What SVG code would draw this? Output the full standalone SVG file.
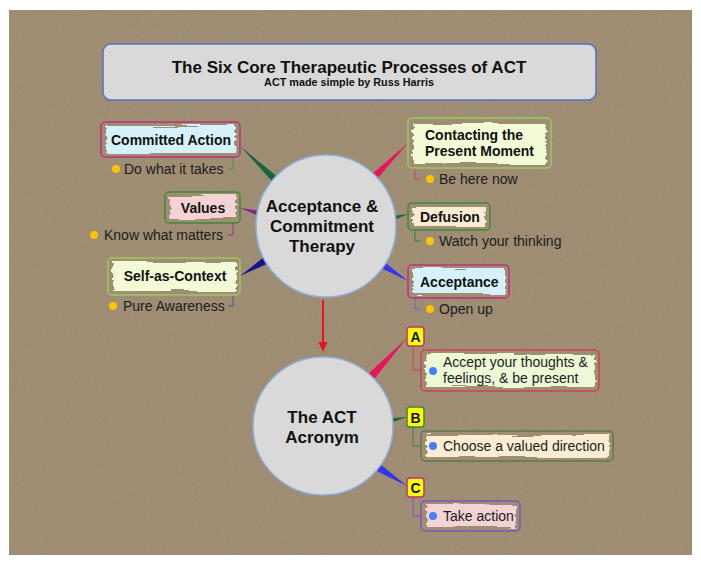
<svg xmlns="http://www.w3.org/2000/svg" width="701" height="563" viewBox="0 0 701 563">
<defs>
<style>
.t{font-family:"Liberation Sans",Arial,Helvetica,sans-serif;fill:#111}
.b{font-weight:bold}
.lbl{font-size:14px;font-weight:bold}
.sub{font-size:14px;fill:#1c1c1c}
.hub{font-size:17px;font-weight:bold;text-anchor:middle}
.box{fill:none;stroke-width:1.5}
.hl{filter:url(#rough)}
.dot{fill:#ffc400}
.bdot{fill:#4a7cff}
.br{fill:none;stroke-width:1}
.circ{fill:#d9d9d9;stroke:#8db0dc;stroke-width:1.5}
.badge{fill:#ffff00;stroke-width:1.5}
</style>
<filter id="rough" x="-10%" y="-30%" width="120%" height="160%">
<feTurbulence type="fractalNoise" baseFrequency="0.02 0.3" numOctaves="2" seed="4" result="n"/>
<feDisplacementMap in="SourceGraphic" in2="n" scale="7" xChannelSelector="R" yChannelSelector="G"/>
</filter>
<filter id="paper" x="0" y="0" width="100%" height="100%">
<feTurbulence type="fractalNoise" baseFrequency="0.9" numOctaves="2" seed="7" result="n"/>
<feColorMatrix in="n" type="matrix" values="0 0 0 0 0.25  0 0 0 0 0.2  0 0 0 0 0.12  0 0 0 -2.2 1.25"/>
</filter>
</defs>
<rect x="0" y="0" width="701" height="563" fill="#ffffff"/>
<rect x="9" y="10" width="683" height="545" fill="#a08f74"/>
<rect x="9" y="10" width="683" height="545" fill="#a08f74" filter="url(#paper)" opacity="0.35"/>

<g id="title">
<rect x="103" y="44" width="493" height="56" rx="8" fill="#d9d9d9" stroke="#4d74c2" stroke-width="1.5"/>
<text class="t b" x="349" y="73" font-size="17" text-anchor="middle">The Six Core Therapeutic Processes of ACT</text>
<text class="t b" x="349" y="86" font-size="10.8" text-anchor="middle">ACT made simple by Russ Harris</text>
</g>

<g id="connectors">
<polygon points="241,147 282.7,181.1 277.3,186.9" fill="#17653f"/>
<polygon points="240,208 262.8,211.1 261.2,216.9" fill="#8a1f94"/>
<polygon points="240,276 270.1,262.4 265.9,255.6" fill="#15158f"/>
<polygon points="408,143 372.8,183.8 367.2,178.2" fill="#e8145c"/>
<polygon points="408,214 390.7,221.4 389.3,216.6" fill="#17653a"/>
<polygon points="408,281 380.1,258.6 375.9,265.4" fill="#3434ee"/>
<polygon points="407,338 370.3,384.1 363.7,377.9" fill="#e8145c"/>
<polygon points="407,417 388.5,423.5 387.5,418.5" fill="#17653a"/>
<polygon points="407,486 378.2,462.6 373.8,469.4" fill="#3434ee"/>
<line x1="323" y1="300" x2="323" y2="343" stroke="#e8141e" stroke-width="2"/>
<polygon points="318.5,342 327.5,342 323,352" fill="#e8141e"/>
<path class="br" d="M233,157 V169 H228" stroke="#4f8a50"/>
<path class="br" d="M233,223 V235 H228" stroke="#9a3090"/>
<path class="br" d="M233,295 V306 H228" stroke="#5050a0"/>
<path class="br" d="M415,168 V179 H421" stroke="#d04060"/>
<path class="br" d="M415,230 V241 H421" stroke="#3d7a37"/>
<path class="br" d="M415,298 V309 H421" stroke="#6a60d0"/>
<path class="br" d="M413,346 V370 H421" stroke="#d0405a"/>
<path class="br" d="M413,427 V446 H421" stroke="#4f7a3f"/>
<path class="br" d="M413,497 V516 H421" stroke="#7a55c0"/>
</g>

<g id="act">
<ellipse class="circ" cx="326" cy="226" rx="70" ry="71"/>
<text class="t hub" x="322" y="212">Acceptance &amp;</text>
<text class="t hub" x="322" y="232">Commitment</text>
<text class="t hub" x="322" y="252">Therapy</text>
</g>

<g id="acronym">
<ellipse class="circ" cx="323" cy="426" rx="70" ry="69"/>
<text class="t hub" x="322" y="423">The ACT</text>
<text class="t hub" x="322" y="443">Acronym</text>
</g>

<g id="committed-action">
<rect class="hl" x="106" y="126" width="129" height="27" fill="#d6f1fb"/>
<rect class="box" x="101" y="122" width="139" height="35" rx="4" stroke="#c0307c"/>
<text class="t lbl" x="171" y="145" text-anchor="middle">Committed Action</text>
<circle class="dot" cx="116" cy="169" r="4"/>
<text class="t sub" x="124" y="174">Do what it takes</text>
</g>

<g id="values">
<rect class="hl" x="170" y="196" width="66" height="23" fill="#f3d3d3"/>
<rect class="box" x="165" y="192" width="75" height="31" rx="4" stroke="#3d8a37"/>
<text class="t lbl" x="203" y="213" text-anchor="middle">Values</text>
<circle class="dot" cx="94" cy="235" r="4"/>
<text class="t sub" x="104" y="240">Know what matters</text>
</g>

<g id="self-as-context">
<rect class="hl" x="113" y="262" width="123" height="29" fill="#f2fbd6"/>
<rect class="box" x="108" y="258" width="132" height="37" rx="4" stroke="#9cc860"/>
<text class="t lbl" x="175" y="281" text-anchor="middle">Self-as-Context</text>
<circle class="dot" cx="113" cy="306" r="4"/>
<text class="t sub" x="123" y="311">Pure Awareness</text>
</g>

<g id="contacting">
<rect class="hl" x="413" y="123" width="133" height="41" fill="#f2fbd6"/>
<rect class="box" x="408" y="118" width="143" height="50" rx="4" stroke="#9cc860"/>
<text class="t lbl" x="425" y="140">Contacting the</text>
<text class="t lbl" x="425" y="156">Present Moment</text>
<circle class="dot" cx="430" cy="179" r="4"/>
<text class="t sub" x="439" y="184">Be here now</text>
</g>

<g id="defusion">
<rect class="hl" x="413" y="207" width="73" height="19" fill="#fcecd4"/>
<rect class="box" x="408" y="203" width="82" height="27" rx="4" stroke="#3d8a37"/>
<text class="t lbl" x="420" y="222">Defusion</text>
<circle class="dot" cx="430" cy="241" r="4"/>
<text class="t sub" x="439" y="246">Watch your thinking</text>
</g>

<g id="acceptance">
<rect class="hl" x="413" y="269" width="92" height="25" fill="#d6f1fb"/>
<rect class="box" x="408" y="265" width="101" height="33" rx="4" stroke="#c0307c"/>
<text class="t lbl" x="420" y="287">Acceptance</text>
<circle class="dot" cx="430" cy="309" r="4"/>
<text class="t sub" x="439" y="314">Open up</text>
</g>

<g id="badge-a">
<rect class="badge" x="407" y="327" width="17" height="19" rx="3" stroke="#c83070"/>
<text class="t lbl" x="415.5" y="342" text-anchor="middle">A</text>
</g>
<g id="badge-b">
<rect class="badge" x="407" y="407" width="17" height="20" rx="3" stroke="#3d8a37"/>
<text class="t lbl" x="415.5" y="423" text-anchor="middle">B</text>
</g>
<g id="badge-c">
<rect class="badge" x="407" y="478" width="17" height="19" rx="3" stroke="#c0307c"/>
<text class="t lbl" x="415.5" y="493" text-anchor="middle">C</text>
</g>

<g id="a-text">
<rect class="hl" x="426" y="354" width="169" height="33" fill="#edf8d6"/>
<rect class="box" x="421" y="350" width="178" height="41" rx="4" stroke="#d0405a"/>
<circle class="bdot" cx="433" cy="371" r="4"/>
<text class="t sub" x="443" y="367">Accept your thoughts &amp;</text>
<text class="t sub" x="443" y="383">feelings, &amp; be present</text>
</g>

<g id="b-text">
<rect class="hl" x="426" y="435" width="183" height="22" fill="#fbecd2"/>
<rect class="box" x="421" y="431" width="192" height="30" rx="4" stroke="#5d7a45"/>
<circle class="bdot" cx="433" cy="446" r="4"/>
<text class="t sub" x="443" y="451">Choose a valued direction</text>
</g>

<g id="c-text">
<rect class="hl" x="426" y="505" width="90" height="22" fill="#f2d4d4"/>
<rect class="box" x="421" y="501" width="99" height="30" rx="4" stroke="#7a55c0"/>
<circle class="bdot" cx="433" cy="516" r="4"/>
<text class="t sub" x="443" y="521">Take action</text>
</g>
</svg>
